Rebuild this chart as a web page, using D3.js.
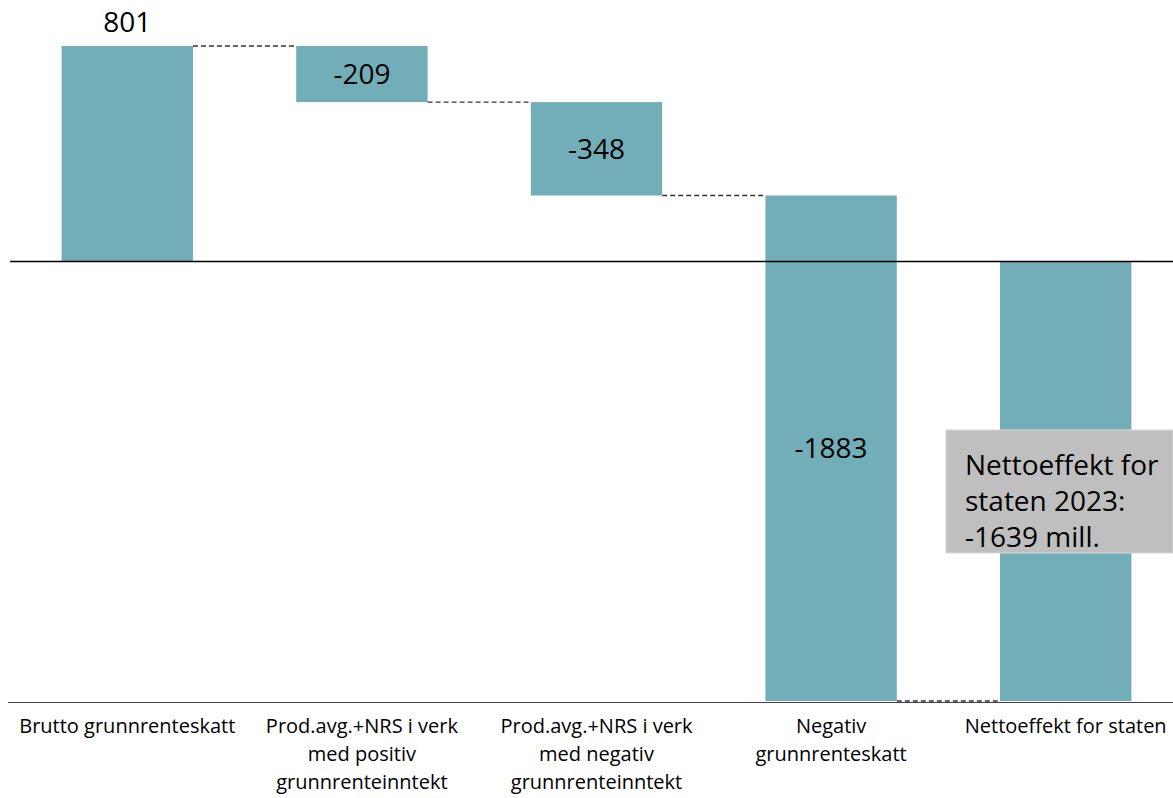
<!DOCTYPE html>
<html>
<head>
<meta charset="utf-8">
<script src="https://cdn.jsdelivr.net/npm/d3@7"></script>
<style>
  body { margin: 0; background: #fff; }
  svg { display: block; font-family: "Open Sans", sans-serif; }
</style>
</head>
<body>
<div id="chart"></div>
<script>
// waterfall data
var categories = ["Brutto grunnrenteskatt", "Prod.avg.+NRS i verk\nmed positiv\ngrunnrenteinntekt",
  "Prod.avg.+NRS i verk\nmed negativ\ngrunnrenteinntekt", "Negativ\ngrunnrenteskatt", "Nettoeffekt for staten"];
var changes = [801, -209, -348, -1883];
var valueLabels = ["801", "-209", "-348", "-1883"];
var noteLines = ["Nettoeffekt for", "staten 2023:", "-1639 mill."];

var width = 1173, height = 798;
var barColor = "#72aeb8";

// running totals -> start/end of each step
var steps = [];
var total = 0;
for (var i = 0; i < changes.length; i++) {
  steps.push({ cat: categories[i], start: total, end: total + changes[i], label: valueLabels[i] });
  total += changes[i];
}
steps.push({ cat: categories[4], start: 0, end: total, label: null, net: true });

var svg = d3.select("#chart").append("svg").attr("width", width).attr("height", height);

var x = d3.scaleBand().domain(categories).range([10, 1183]).paddingInner(0.44).paddingOuter(0.22);
var y = d3.scaleLinear().domain([total, 801]).range([701, 46]);

// bars
svg.selectAll(".bar")
  .data(steps)
  .enter().append("rect")
  .attr("class", "bar")
  .attr("x", function(d) { return x(d.cat); })
  .attr("y", function(d) { return y(Math.max(d.start, d.end)); })
  .attr("width", x.bandwidth())
  .attr("height", function(d) { return Math.abs(y(d.start) - y(d.end)); })
  .style("fill", barColor);

// zero line and bottom line
svg.append("line")
  .attr("x1", 10).attr("x2", width)
  .attr("y1", y(0) + 0.5).attr("y2", y(0) + 0.5)
  .style("stroke", "#000").style("stroke-width", 1.5);
svg.append("line")
  .attr("x1", 8).attr("x2", width)
  .attr("y1", y(total) + 1.5).attr("y2", y(total) + 1.5)
  .style("stroke", "#444").style("stroke-width", 1);

// dashed connectors
for (var j = 0; j < steps.length - 1; j++) {
  var a = steps[j], b = steps[j + 1];
  svg.append("line")
    .attr("x1", x(a.cat) + x.bandwidth()).attr("x2", x(b.cat))
    .attr("y1", y(a.end)).attr("y2", y(a.end))
    .style("stroke", "#333").style("stroke-width", 1.3)
    .style("stroke-dasharray", "5,3");
}

// value labels
svg.selectAll(".val")
  .data(steps.filter(function(d) { return d.label; }))
  .enter().append("text")
  .attr("class", "val")
  .attr("x", function(d) { return x(d.cat) + x.bandwidth() / 2; })
  .attr("y", function(d, i) {
    if (i == 0) return y(d.end) - 14;
    return (y(d.start) + y(d.end)) / 2 + 10;
  })
  .attr("text-anchor", "middle")
  .style("font-size", "28px")
  .style("fill", "#000")
  .text(function(d) { return d.label; });

// category labels (kept a bit higher so the 3rd line fits inside the page)
var catG = svg.selectAll(".cat")
  .data(categories)
  .enter().append("text")
  .attr("class", "cat")
  .attr("text-anchor", "middle")
  .style("font-size", "20px")
  .style("fill", "#000");
catG.each(function(c) {
  var lines = c.split("\n");
  var t = d3.select(this);
  lines.forEach(function(l, k) {
    t.append("tspan")
      .attr("x", x(c) + x.bandwidth() / 2)
      .attr("y", 733 + k * 28)
      .text(l);
  });
});

// annotation box
var note = svg.append("g").attr("transform", "translate(946,430)");
note.append("rect")
  .attr("width", 227).attr("height", 123)
  .style("fill", "#bfbfbf").style("stroke", "#d9d9d9");
note.selectAll("text")
  .data(noteLines)
  .enter().append("text")
  .attr("x", 19)
  .attr("y", function(d, i) { return 45 + i * 36; })
  .style("font-size", "28px")
  .style("fill", "#000")
  .text(function(d) { return d; });
</script>
</body>
</html>
